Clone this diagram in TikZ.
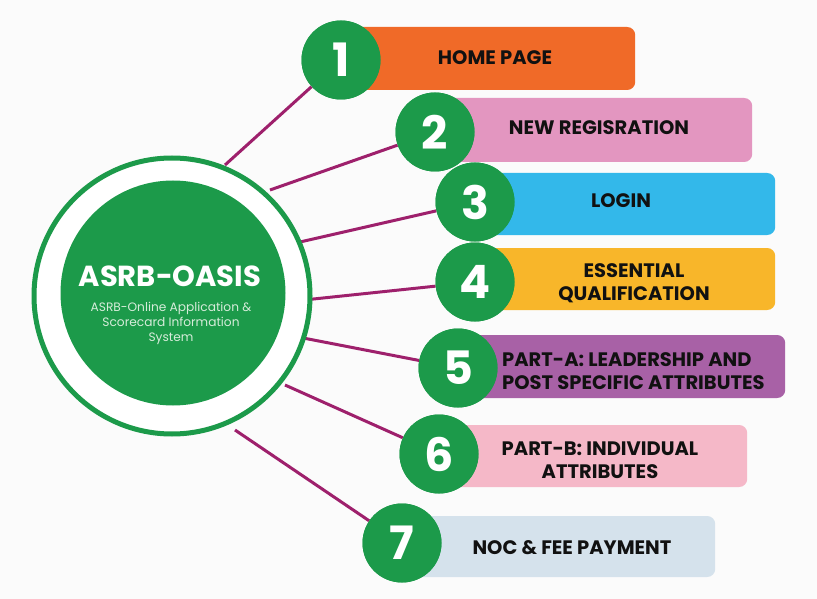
\documentclass[tikz,border=0pt]{standalone}
\usepackage{fontspec}
\setmainfont{Poppins}
\definecolor{bgc}{RGB}{251,251,251}
\definecolor{grn}{RGB}{28,154,74}
\definecolor{lnc}{RGB}{158,32,108}
\definecolor{c1}{RGB}{240,106,40}
\definecolor{c2}{RGB}{227,150,192}
\definecolor{c3}{RGB}{51,184,234}
\definecolor{c4}{RGB}{248,182,42}
\definecolor{c5}{RGB}{168,97,166}
\definecolor{c6}{RGB}{245,184,200}
\definecolor{c7}{RGB}{213,226,236}
\definecolor{txt}{RGB}{17,17,17}
\definecolor{subc}{RGB}{214,236,218}
\begin{document}
\begin{tikzpicture}[x=1pt,y=-1pt,
  box/.style={rounded corners=8pt, inner sep=0pt, anchor=west, draw=none},
  numc/.style={circle, fill=grn, minimum size=79pt, inner sep=0pt, text=white,
    font=\bfseries\fontsize{46}{46}\selectfont},
  lbl/.style={text=txt, font=\bfseries\fontsize{19.5}{23}\selectfont, align=center, inner sep=0pt},
  conn/.style={draw=lnc, line width=3pt}]
\useasboundingbox[fill=bgc] (0,0) rectangle (817,599);
% connectors start points on ring
\coordinate (s1) at (225,165);
\coordinate (s2) at (270,190);
\coordinate (s3) at (300,242);
\coordinate (s4) at (304,300);
\coordinate (s5) at (298,337);
\coordinate (s6) at (285,385);
\coordinate (s7) at (235,430);
% boxes
\node[box, fill=c1, minimum width=294pt, minimum height=63pt] (b1) at (341,58.5) {};
\node[box, fill=c2, minimum width=317pt, minimum height=64pt] (b2) at (435,130) {};
\node[box, fill=c3, minimum width=300pt, minimum height=62pt] (b3) at (475,204) {};
\node[box, fill=c4, minimum width=300pt, minimum height=62pt] (b4) at (475,279) {};
\node[box, fill=c5, minimum width=327pt, minimum height=63pt] (b5) at (458,366.5) {};
\node[box, fill=c6, minimum width=308pt, minimum height=62pt] (b6) at (439,456) {};
\node[box, fill=c7, minimum width=313pt, minimum height=61pt] (b7) at (402,546.5) {};
% number circles (positions)
\node[numc] (n1) at (341,60) {1};
\node[numc] (n2) at (435,132) {2};
\node[numc] (n3) at (475,202) {3};
\node[numc] (n4) at (475,282) {4};
\node[numc] (n5) at (458,368) {5};
\node[numc] (n6) at (439,454) {6};
\node[numc] (n7) at (402,543) {7};
% connectors
\draw[conn] (s1) -- (n1);
\draw[conn] (s2) -- (n2);
\draw[conn] (s3) -- (n3);
\draw[conn] (s4) -- (n4);
\draw[conn] (s5) -- (n5);
\draw[conn] (s6) -- (n6);
\draw[conn] (s7) -- (n7);
% redraw circles over connectors
\node[numc] at (n1) {1};
\node[numc] at (n2) {2};
\node[numc] at (n3) {3};
\node[numc] at (n4) {4};
\node[numc] at (n5) {5};
\node[numc] at (n6) {6};
\node[numc] at (n7) {7};
% central hub
\node[circle, draw=grn, line width=5pt, fill=white, minimum size=276pt, inner sep=0pt] (ring) at (172,296) {};
\node[circle, fill=grn, minimum size=225pt, inner sep=0pt] (hub) at (173,293) {};
\node[text=white, font=\bfseries\fontsize{29}{30}\selectfont, inner sep=0pt] (title) at (170,276) {ASRB-OASIS};
\node[text=subc, font=\fontsize{12.2}{15}\selectfont, align=center, inner sep=0pt] (sub) at (171,323) {ASRB-Online Application \&\\Scorecard Information\\System};
% labels
\node[lbl] (t1) at (495,58) {HOME PAGE};
\node[lbl] (t2) at (599,128) {NEW REGISRATION};
\node[lbl] (t3) at (621,201) {LOGIN};
\node[lbl] (t4) at (634,283) {ESSENTIAL\\QUALIFICATION};
\node[lbl, align=left, anchor=west] (t5) at (502,371) {PART-A: LEADERSHIP AND\\POST SPECIFIC ATTRIBUTES};
\node[lbl] (t6) at (600,460) {PART-B: INDIVIDUAL\\ATTRIBUTES};
\node[lbl] (t7) at (572,548) {NOC \& FEE PAYMENT};
\end{tikzpicture}
\end{document}
